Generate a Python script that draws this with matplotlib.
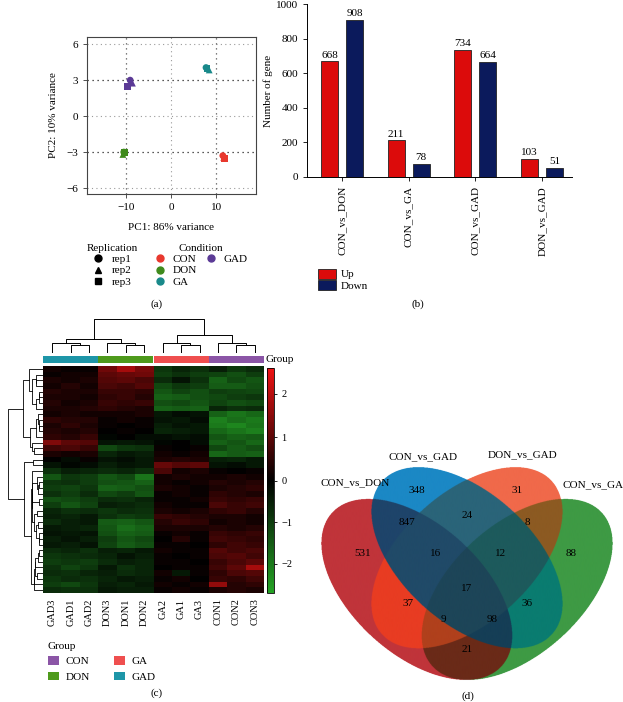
import matplotlib
matplotlib.use('Agg')
import matplotlib.pyplot as plt
import numpy as np
from matplotlib.lines import Line2D
from matplotlib.patches import Patch
from matplotlib.colors import LinearSegmentedColormap, TwoSlopeNorm, to_rgb

plt.rcParams['font.family'] = ['Liberation Serif', 'DejaVu Serif']
plt.rcParams['font.size'] = 8
plt.rcParams['axes.unicode_minus'] = True

# ---------------- data ----------------
# (a) PCA, rows = condition, cols = rep1..rep3
pca_conditions = ['CON', 'DON', 'GA', 'GAD']
pca_reps = ['rep1', 'rep2', 'rep3']
pc1 = [[11.4, 11.6, 11.7],
       [-10.4, -10.6, -10.2],
       [7.7, 8.4, 7.9],
       [-9.0, -8.5, -9.5]]
pc2 = [[-3.3, -3.45, -3.55],
       [-3.0, -3.2, -3.05],
       [4.05, 3.85, 4.0],
       [3.0, 2.75, 2.5]]

# (b) DEG counts
comparisons = ['CON_vs_DON', 'CON_vs_GA', 'CON_vs_GAD', 'DON_vs_GAD']
up_genes = [668, 211, 734, 103]
down_genes = [908, 78, 664, 51]

# (c) heatmap (row-scaled expression), columns in plotted order
hm_columns = ['GAD3', 'GAD1', 'GAD2', 'DON3', 'DON1', 'DON2',
              'GA2', 'GA1', 'GA3', 'CON1', 'CON2', 'CON3']
hm_values = [
    [0.2, 0.1, 0.1, 1.2, 1.8, 1.3, -0.9, -0.6, -0.8, -0.5, -0.9, -0.7],
    [0.1, 0.2, 0.2, 1.0, 1.1, 1.2, -1.0, -0.8, -1.0, -1.1, -1.3, -1.0],
    [0.3, 0.2, 0.3, 0.9, 1.0, 0.8, -0.7, -0.3, -0.8, -1.6, -1.2, -1.4],
    [0.2, 0.4, 0.2, 0.8, 0.7, 0.9, -1.2, -0.9, -1.0, -1.5, -1.5, -1.3],
    [0.4, 0.3, 0.3, 0.6, 0.6, 0.5, -1.4, -1.1, -1.3, -1.0, -1.1, -1.2],
    [0.3, 0.3, 0.2, 0.5, 0.6, 0.4, -1.6, -1.5, -1.3, -1.2, -1.0, -0.9],
    [0.4, 0.2, 0.3, 0.6, 0.5, 0.6, -1.3, -1.2, -1.4, -1.1, -1.3, -1.2],
    [0.3, 0.3, 0.4, 0.5, 0.4, 0.3, -1.6, -1.5, -1.6, -0.6, -0.8, -0.7],
    [0.2, 0.3, 0.2, 0.2, 0.2, 0.3, -0.4, -0.2, -0.3, -1.6, -1.9, -1.7],
    [0.5, 0.4, 0.4, 0.1, 0.2, 0.1, -0.3, -0.4, -0.2, -2.1, -1.8, -2.0],
    [0.3, 0.5, 0.3, 0.1, 0.0, 0.1, -0.5, -0.3, -0.4, -2.0, -2.2, -1.9],
    [0.4, 0.3, 0.4, 0.0, 0.1, 0.0, -0.6, -0.5, -0.4, -1.7, -1.9, -2.1],
    [0.5, 0.4, 0.6, -0.1, 0.0, -0.2, -0.2, -0.3, -0.2, -1.4, -1.6, -1.5],
    [1.4, 1.0, 0.9, -0.3, -0.4, -0.3, -0.1, 0.0, -0.2, -1.6, -1.4, -1.7],
    [0.7, 0.8, 0.6, -1.2, -0.9, -0.8, 0.1, 0.0, 0.1, -1.2, -1.5, -1.3],
    [0.3, 0.2, 0.3, -0.6, -0.4, -0.5, 0.2, 0.1, 0.2, -1.7, -1.5, -1.6],
    [0.0, -0.2, 0.1, -0.3, -0.2, -0.4, 0.3, 0.4, 0.3, -0.5, -0.6, -0.4],
    [-0.3, -0.1, -0.2, -0.5, -0.3, -0.4, 1.1, 0.9, 1.0, -0.3, -0.2, -0.4],
    [-0.8, -0.5, -0.6, -0.7, -0.6, -0.8, 0.8, 0.2, 0.3, 0.1, 0.0, 0.1],
    [-1.4, -0.9, -1.0, -1.4, -1.2, -1.9, 0.2, 0.3, 0.2, 0.2, 0.3, 0.2],
    [-0.9, -0.8, -1.0, -1.3, -1.4, -1.6, 0.2, 0.1, 0.2, 0.4, 0.3, 0.4],
    [-1.0, -1.1, -0.9, -1.6, -1.5, -1.3, 0.3, 0.2, 0.1, 0.3, 0.4, 0.5],
    [-0.8, -1.0, -0.7, -1.2, -1.0, -1.4, 0.1, 0.2, 0.1, 0.5, 0.4, 0.3],
    [-1.3, -1.2, -1.0, -0.7, -0.8, -0.6, 0.1, 0.1, 0.2, 0.6, 0.5, 0.6],
    [-1.0, -1.4, -1.1, -0.5, -0.6, -0.7, 0.2, 0.1, 0.1, 0.8, 0.6, 0.7],
    [-0.6, -0.8, -0.7, -0.9, -0.7, -0.8, 0.3, 0.2, 0.3, 0.5, 0.6, 0.4],
    [-0.5, -0.6, -0.4, -0.8, -1.0, -0.9, 0.6, 0.5, 0.4, 0.3, 0.3, 0.2],
    [-0.7, -0.5, -0.4, -1.5, -1.6, -1.4, 0.4, 0.6, 0.5, 0.2, 0.3, 0.2],
    [-0.4, -0.5, -0.6, -1.4, -1.8, -1.6, 0.3, 0.3, 0.3, 0.4, 0.3, 0.4],
    [-0.3, -0.4, -0.3, -1.3, -1.6, -1.5, 0.1, 0.2, 0.1, 0.6, 0.5, 0.6],
    [-0.5, -0.3, -0.5, -1.0, -1.4, -1.2, 0.0, 0.4, 0.1, 0.7, 0.6, 0.5],
    [-0.4, -0.5, -0.3, -1.1, -1.5, -1.3, 0.1, 0.1, 0.0, 0.5, 0.7, 0.6],
    [-0.7, -0.6, -0.8, -0.5, -0.6, -0.4, 0.2, 0.1, 0.1, 0.9, 0.7, 0.8],
    [-0.9, -0.8, -0.7, -0.6, -0.3, -0.5, 0.1, 0.0, 0.1, 0.8, 0.9, 0.7],
    [-1.0, -0.9, -1.0, -0.7, -0.5, -0.6, 0.1, 0.1, 0.0, 0.6, 0.8, 1.0],
    [-0.8, -1.1, -0.9, -0.4, -0.8, -0.6, 0.0, 0.1, 0.1, 0.7, 1.0, 1.8],
    [-0.7, -0.8, -0.6, -0.5, -0.7, -0.6, 0.2, -0.4, 0.1, 0.5, 0.8, 0.9],
    [-0.9, -0.7, -0.8, -0.6, -0.4, -0.5, 0.1, 0.2, 0.0, 0.6, 0.5, 0.7],
    [-1.0, -1.2, -0.9, -0.5, -0.6, -0.4, 0.2, 0.1, 0.2, 1.6, 0.4, 0.5],
    [-0.7, -0.8, -0.8, -0.4, -0.5, -0.5, 0.1, 0.2, 0.1, 0.3, 0.4, 0.3],
]
# column tree: [left id, right id, height]; ids >= 12 are earlier merges
col_links = [[1, 2, 1.9], [0, 12, 2.35], [4, 5, 1.9], [3, 14, 2.35],
             [13, 15, 3.3], [7, 8, 1.9], [6, 17, 2.35], [10, 11, 1.9],
             [9, 19, 2.35], [18, 20, 4.2], [16, 21, 8.0]]

# (d) Venn: bit 1 CON_vs_DON, 2 CON_vs_GAD, 4 DON_vs_GAD, 8 CON_vs_GA
venn_sets = ['CON_vs_DON', 'CON_vs_GAD', 'DON_vs_GAD', 'CON_vs_GA']
venn_masks = [1, 2, 4, 8, 3, 6, 12, 5, 10, 9, 7, 14, 13, 11, 15]
venn_counts = [531, 348, 31, 88, 847, 24, 8, 37, 36, 21, 16, 12, 9, 98, 17]

# ---------------- styles / layout ----------------
W, H = 623, 702
cond_colors = {'CON': '#e8382e', 'DON': '#3f8a1c', 'GA': '#19898a', 'GAD': '#5b3a96'}
group_colors = {'CON': '#8b55a6', 'DON': '#4e9a1c', 'GA': '#ef4f4f', 'GAD': '#1e96a8'}
rep_markers = ['o', '^', 's']
venn_colors = {1: '#c0343a', 2: '#1b88c5', 4: '#f0694a', 8: '#3e9a44',
               3: '#1e446a', 6: '#2a6479', 12: '#8c5a22', 5: '#e83c22',
               10: '#0a7c70', 9: '#6a2a18', 7: '#204a68', 14: '#1d5a5c',
               13: '#b0401c', 11: '#153e56', 15: '#1d4558'}
venn_ellipses = [(0.35, 0.47, -45), (0.50, 0.57, -45), (0.50, 0.57, 45), (0.65, 0.47, 45)]
venn_a, venn_b = 0.35, 0.20
venn_text_xy = {1: (0.19, 0.584), 2: (0.35, 0.782), 4: (0.65, 0.782), 8: (0.81, 0.584),
                3: (0.32, 0.679), 6: (0.50, 0.701), 12: (0.68, 0.679), 5: (0.325, 0.427),
                10: (0.68, 0.427), 9: (0.50, 0.282), 7: (0.405, 0.584), 14: (0.60, 0.584),
                13: (0.43, 0.377), 11: (0.575, 0.377), 15: (0.50, 0.474)}
venn_set_xy = [(0.166, 0.804), (0.369, 0.886), (0.667, 0.893), (0.875, 0.798)]


def box(x0, y0, x1, y1):
    # pixel rectangle (origin top-left) -> figure fraction
    return [x0 / W, 1 - y1 / H, (x1 - x0) / W, (y1 - y0) / H]


fig = plt.figure(figsize=(W / 100, H / 100), dpi=100, facecolor='white')

# ---------------- (a) PCA ----------------
ax_a = fig.add_axes(box(87, 37, 256, 194))
for yv in [-6, 0, 6]:
    ax_a.axhline(yv, color='#9a9a9a', lw=0.8, ls=(0, (1, 3)), zorder=0)
ax_a.axvline(0, color='#9a9a9a', lw=0.8, ls=(0, (1, 3)), zorder=0)
for yv in [-3, 3]:
    ax_a.axhline(yv, color='#222222', lw=0.9, ls=(0, (1, 3)), zorder=0)
for xv in [-10, 10]:
    ax_a.axvline(xv, color='#555555', lw=0.9, ls=(0, (1, 3)), zorder=0)
for i, cond in enumerate(pca_conditions):
    for j in range(3):
        ax_a.scatter(pc1[i][j], pc2[i][j], marker=rep_markers[j], s=24,
                     color=cond_colors[cond], edgecolors='none', zorder=3)
ax_a.set_xlim(-18.5, 18.7)
ax_a.set_ylim(-6.5, 6.6)
ax_a.set_xticks([-10, 0, 10])
ax_a.set_yticks([-6, -3, 0, 3, 6])
ax_a.tick_params(length=3, width=0.6, labelsize=8, colors='#333333', labelcolor='black')
for s in ax_a.spines.values():
    s.set_color('#444444')
    s.set_linewidth(0.8)
ax_a.set_xlabel('PC1: 86% variance', fontsize=8)
ax_a.set_ylabel('PC2: 10% variance', fontsize=8)
ax_a.xaxis.set_label_coords(0.5, -0.185)
ax_a.yaxis.set_label_coords(-0.172, 0.5)

rep_handles = [Line2D([], [], marker=m, ls='', color='black', markersize=5) for m in rep_markers]
leg1 = fig.legend(rep_handles, pca_reps, title='Replication', loc='upper center',
                  bbox_to_anchor=(112 / W, 1 - 238 / H), frameon=False, fontsize=8,
                  title_fontsize=8, handlelength=1.0, handletextpad=0.8,
                  labelspacing=0.15, borderpad=0)
cond_handles = [Line2D([], [], marker='o', ls='', color=cond_colors[c], markersize=5)
                for c in pca_conditions]
blank = Line2D([], [], ls='', marker='')
leg2 = fig.legend(cond_handles + [blank, blank], pca_conditions + ['', ''], title='Condition',
                  loc='upper center', bbox_to_anchor=(201 / W, 1 - 238 / H), frameon=False,
                  fontsize=8, title_fontsize=8, ncol=2, handlelength=1.0,
                  handletextpad=0.6, labelspacing=0.15, columnspacing=0.8, borderpad=0)
fig.text(157 / W, 1 - 304 / H, '(a)', ha='center', va='center', fontsize=8)

# ---------------- (b) DEG bars ----------------
ax_b = fig.add_axes(box(307, 4, 572, 177))
xb = np.arange(len(comparisons))
bw, off = 0.255, 0.1875
ax_b.bar(xb - off, up_genes, bw, color='#dc0b0b', edgecolor='#222222', lw=0.6, label='Up')
ax_b.bar(xb + off, down_genes, bw, color='#0b1a5c', edgecolor='#222222', lw=0.6, label='Down')
for i in range(len(comparisons)):
    ax_b.text(xb[i] - off, up_genes[i] + 10, str(up_genes[i]), ha='center', va='bottom', fontsize=8)
    ax_b.text(xb[i] + off, down_genes[i] + 10, str(down_genes[i]), ha='center', va='bottom', fontsize=8)
ax_b.set_xlim(-0.525, 3.45)
ax_b.set_ylim(0, 1000)
ax_b.set_yticks(range(0, 1001, 200))
ax_b.set_xticks(xb)
ax_b.set_xticklabels(comparisons, rotation=90, fontsize=8)
ax_b.tick_params(length=3, width=0.6, labelsize=8)
ax_b.spines['top'].set_visible(False)
ax_b.spines['right'].set_visible(False)
for s in ['left', 'bottom']:
    ax_b.spines[s].set_linewidth(0.7)
ax_b.set_ylabel('Number of gene', fontsize=8)
ax_b.yaxis.set_label_coords(-0.128, 0.5)
fig.legend(handles=[Patch(facecolor='#dc0b0b', edgecolor='#222222', lw=0.6),
                    Patch(facecolor='#0b1a5c', edgecolor='#222222', lw=0.6)],
           labels=['Up', 'Down'], loc='upper left', bbox_to_anchor=(312 / W, 1 - 263 / H),
           frameon=False, fontsize=8, handlelength=1.7, handleheight=1.0,
           handletextpad=0.4, labelspacing=0.1, borderpad=0)
fig.text(418 / W, 1 - 304 / H, '(b)', ha='center', va='center', fontsize=8)

# ---------------- (c) heatmap ----------------
hm = np.array(hm_values)
n_rows, n_cols = hm.shape


def chain_linkage(rows):
    # average linkage restricted to neighbouring clusters, keeps the row order
    members = [[i] for i in range(len(rows))]
    pos = [i + 0.5 for i in range(len(rows))]
    hgt = [0.0] * len(rows)
    links = []
    while len(members) > 1:
        d = [np.mean([np.linalg.norm(rows[p] - rows[q]) for p in members[k] for q in members[k + 1]])
             for k in range(len(members) - 1)]
        k = int(np.argmin(d))
        h = max(d[k], hgt[k], hgt[k + 1])
        links.append((pos[k], hgt[k], pos[k + 1], hgt[k + 1], h))
        members[k:k + 2] = [members[k] + members[k + 1]]
        pos[k:k + 2] = [(pos[k] + pos[k + 1]) / 2]
        hgt[k:k + 2] = [h]
    return links


def table_linkage(table, n):
    pos = {i: i + 0.5 for i in range(n)}
    hgt = {i: 0.0 for i in range(n)}
    links = []
    for k, (a, b, h) in enumerate(table):
        links.append((pos[a], hgt[a], pos[b], hgt[b], h))
        pos[n + k] = (pos[a] + pos[b]) / 2
        hgt[n + k] = h
    return links


cmap = LinearSegmentedColormap.from_list('gkr', ['#25a325', '#000000', '#ee1212'])
norm = TwoSlopeNorm(vcenter=0, vmin=-2.7, vmax=2.6)

ax_h = fig.add_axes(box(43, 366, 264, 593))
mesh = ax_h.pcolormesh(hm, cmap=cmap, norm=norm)
ax_h.set_xlim(0, n_cols)
ax_h.set_ylim(n_rows, 0)
ax_h.set_yticks([])
ax_h.set_xticks(np.arange(n_cols) + 0.5)
ax_h.set_xticklabels(hm_columns, rotation=90, fontsize=7.5)
ax_h.tick_params(axis='x', length=0, pad=4)
for s in ax_h.spines.values():
    s.set_visible(False)

ax_rd = fig.add_axes(box(7, 366, 43, 593))
row_links = chain_linkage(hm)
for pa, ha, pb, hb, h in row_links:
    ax_rd.plot([ha, h, h, hb], [pa, pa, pb, pb], color='black', lw=0.6)
ax_rd.set_xlim(max(l[4] for l in row_links) * 1.02, 0)
ax_rd.set_ylim(n_rows, 0)
ax_rd.axis('off')

ax_cd = fig.add_axes(box(43, 319, 264, 353))
for pa, ha, pb, hb, h in table_linkage(col_links, n_cols):
    ax_cd.plot([pa, pa, pb, pb], [ha, h, h, hb], color='black', lw=0.7)
ax_cd.set_xlim(0, n_cols)
ax_cd.set_ylim(0, 8.05)
ax_cd.axis('off')

ax_g = fig.add_axes(box(43, 356, 264, 363))
col_groups = [c.rstrip('0123456789') for c in hm_columns]
ax_g.bar(np.arange(n_cols) + 0.5, 1, width=1.0, color=[group_colors[g] for g in col_groups])
ax_g.set_xlim(0, n_cols)
ax_g.set_ylim(0, 1)
ax_g.axis('off')
fig.text(266 / W, 1 - 359 / H, 'Group', ha='left', va='center', fontsize=8)

cax = fig.add_axes(box(267, 368, 274, 593))
cb = fig.colorbar(mesh, cax=cax, ticks=[-2, -1, 0, 1, 2])
cb.outline.set_linewidth(0.6)
cax.tick_params(labelsize=7.5, length=2, width=0.6)

group_order = ['CON', 'DON', 'GA', 'GAD']
fig.legend(handles=[Patch(facecolor=group_colors[g]) for g in group_order], labels=group_order,
           title='Group', alignment='left', loc='upper left',
           bbox_to_anchor=(42 / W, 1 - 636 / H), frameon=False, ncol=2, fontsize=8,
           title_fontsize=8, handlelength=1.0, handleheight=0.8, handletextpad=0.6,
           labelspacing=0.5, columnspacing=2.2, borderpad=0)
fig.text(157 / W, 1 - 693 / H, '(c)', ha='center', va='center', fontsize=8)

# ---------------- (d) Venn ----------------
ax_v = fig.add_axes(box(316, 462, 618, 685))
vx0, vx1, vy0, vy1 = 0.05, 0.95, 0.17, 0.87
gx = np.linspace(vx0, vx1, 900)
gy = np.linspace(vy0, vy1, 670)
XX, YY = np.meshgrid(gx, gy)
code = np.zeros(XX.shape, dtype=int)
for k, (cx, cy, ang) in enumerate(venn_ellipses):
    t = np.deg2rad(ang)
    dx, dy = XX - cx, YY - cy
    u = dx * np.cos(t) + dy * np.sin(t)
    v = -dx * np.sin(t) + dy * np.cos(t)
    code |= (((u / venn_a) ** 2 + (v / venn_b) ** 2) <= 1).astype(int) << k
lut = np.ones((16, 4))
lut[0] = (1, 1, 1, 0)
for m, c in venn_colors.items():
    lut[m, :3] = to_rgb(c)
ax_v.imshow(lut[code], extent=(vx0, vx1, vy0, vy1), origin='lower',
            interpolation='antialiased', aspect='auto')
for m, cnt in zip(venn_masks, venn_counts):
    tx, ty = venn_text_xy[m]
    ax_v.text(tx, ty, str(cnt), ha='center', va='center', fontsize=8, color='black')
for name, (tx, ty) in zip(venn_sets, venn_set_xy):
    ax_v.text(tx, ty, name, ha='center', va='center', fontsize=8, clip_on=False)
ax_v.set_xlim(vx0, vx1)
ax_v.set_ylim(vy0, vy1)
ax_v.axis('off')
fig.text(468 / W, 1 - 696 / H, '(d)', ha='center', va='center', fontsize=8)

fig.savefig('out.png', dpi=100, facecolor='white')
